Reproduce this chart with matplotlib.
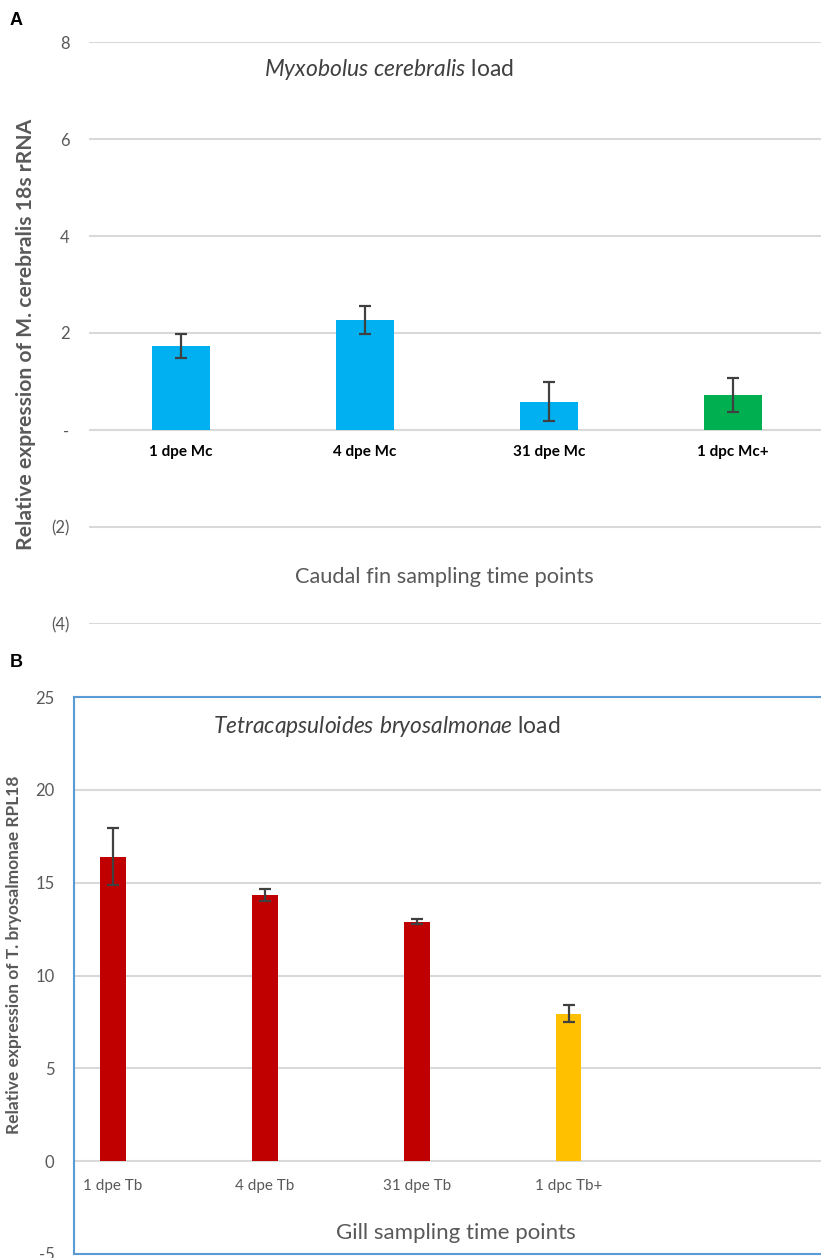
import matplotlib

matplotlib.use("Agg")
import matplotlib.pyplot as plt
from matplotlib.ticker import FixedLocator, FuncFormatter

# panel A: Myxobolus cerebralis load (caudal fin)
mc_groups = ["1 dpe Mc", "4 dpe Mc", "31 dpe Mc", "1 dpc Mc+"]
mc_values = [1.73, 2.27, 0.58, 0.72]
mc_err = [0.25, 0.29, 0.40, 0.35]
mc_colors = ["#00B0F0", "#00B0F0", "#00B0F0", "#00B050"]
mc_yticks = [-4, -2, 0, 2, 4, 6, 8]

# panel B: Tetracapsuloides bryosalmonae load (gill)
tb_groups = ["1 dpe Tb", "4 dpe Tb", "31 dpe Tb", "1 dpc Tb+"]
tb_values = [16.4, 14.35, 12.9, 7.95]
tb_err = [1.52, 0.33, 0.12, 0.47]
tb_colors = ["#C00000", "#C00000", "#C00000", "#FFC000"]
tb_yticks = [-5, 0, 5, 10, 15, 20, 25]

GREY = "#595959"
GRID = "#D9D9D9"
FONT = "Lato"

plt.rcParams.update({
    "font.family": FONT,
    "figure.dpi": 100,
    "savefig.dpi": 100,
    "figure.facecolor": "white",
    "axes.facecolor": "white",
    "axes.unicode_minus": False,
    "mathtext.fontset": "custom",
    "mathtext.it": "Lato:italic",
    "mathtext.rm": "Lato",
})


def accounting(v, _pos):
    if v == 0:
        return "-"
    if v < 0:
        return f"({abs(v):g})"
    return f"{v:g}"


def category_labels(ax, xs, labels, offset, **kw):
    for x, lab in zip(xs, labels):
        ax.annotate(lab, (x, 0), xytext=(0, offset), textcoords="offset points",
                    ha="center", va="center", annotation_clip=False, **kw)


fig = plt.figure(figsize=(8.21, 12.58))

# ---- panel A ----
axA = fig.add_axes([0.1084, 0.504, 0.8916, 0.4626])
xa = list(range(len(mc_groups)))
axA.bar(xa, mc_values, width=0.315, color=mc_colors, zorder=3)
axA.errorbar(xa, mc_values, yerr=mc_err, fmt="none", ecolor="#404040",
             elinewidth=1.6, capsize=4, capthick=1.6, zorder=4)
axA.set_xlim(-0.5, 3.478)
axA.set_ylim(-4, 8)
axA.yaxis.set_major_locator(FixedLocator(mc_yticks))
axA.yaxis.set_major_formatter(FuncFormatter(accounting))
axA.grid(axis="y", color=GRID, linewidth=1.5, zorder=0)
axA.set_xticks([])
for s in axA.spines.values():
    s.set_visible(False)
axA.tick_params(axis="y", length=0, pad=14, labelsize=12, labelcolor=GREY)
category_labels(axA, xa, mc_groups, -16, fontsize=11, fontweight="bold",
                color="black")
axA.text(0.41, 0.953, "$Myxobolus\\ cerebralis$ load", transform=axA.transAxes,
         ha="center", va="center", fontsize=16.5, color="#404040")
axA.text(0.485, 0.081, "Caudal fin sampling time points", transform=axA.transAxes,
         ha="center", va="center", fontsize=15.7, color=GREY)
fig.text(0.032, 0.734, "Relative expression of M. cerebralis 18s rRNA",
         rotation=90, ha="center", va="center", fontsize=15.2,
         fontweight="bold", color=GREY)
fig.text(0.012, 0.984, "A", fontsize=13, fontweight="bold", ha="left",
         va="center", family="Liberation Sans")

# ---- panel B ----
axB = fig.add_axes([0.0901, 0.0032, 0.912, 0.4427])
xb = list(range(len(tb_groups)))
axB.bar(xb, tb_values, width=0.165, color=tb_colors, zorder=3)
axB.errorbar(xb, tb_values, yerr=tb_err, fmt="none", ecolor="#404040",
             elinewidth=1.6, capsize=4, capthick=1.6, zorder=4)
axB.set_xlim(-0.257, 4.67)
axB.set_ylim(-5, 25)
axB.yaxis.set_major_locator(FixedLocator(tb_yticks))
axB.grid(axis="y", color=GRID, linewidth=1.5, zorder=0)
axB.set_xticks([])
for s in axB.spines.values():
    s.set_color("#5B9BD5")
    s.set_linewidth(1.5)
axB.spines["right"].set_visible(False)
axB.tick_params(axis="y", length=0, pad=14, labelsize=12, labelcolor=GREY)
category_labels(axB, xb, tb_groups, -18, fontsize=11, color=GREY)
axB.text(0.418, 0.948, "$Tetracapsuloides\\ bryosalmonae$ load",
         transform=axB.transAxes, ha="center", va="center", fontsize=16.4,
         color="#404040")
axB.text(0.51, 0.038, "Gill sampling time points", transform=axB.transAxes,
         ha="center", va="center", fontsize=16, color=GREY)
fig.text(0.017, 0.241, "Relative expression of T. bryosalmonae RPL18",
         rotation=90, ha="center", va="center", fontsize=12.5,
         fontweight="bold", color=GREY)
fig.text(0.012, 0.473, "B", fontsize=13, fontweight="bold", ha="left",
         va="center", family="Liberation Sans")

fig.savefig("out.png", dpi=100)
